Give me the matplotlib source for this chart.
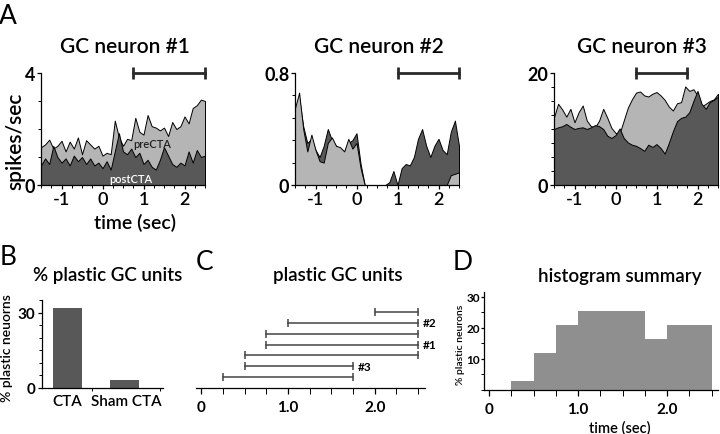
import numpy as np
import matplotlib
matplotlib.use('Agg')
import matplotlib.pyplot as plt
from matplotlib.ticker import MultipleLocator

plt.rcParams.update({'font.family': ['Lato', 'DejaVu Sans'], 'font.weight': 'semibold',
                     'axes.linewidth': 0.9,
                     'xtick.direction': 'out', 'ytick.direction': 'out',
                     'xtick.major.width': 0.9, 'ytick.major.width': 0.9,
                     'xtick.minor.width': 0.7, 'ytick.minor.width': 0.7})

# ---- data ----
time_s = [-1.5, -1.4, -1.3, -1.2, -1.1, -1.0, -0.9, -0.8, -0.7, -0.6, -0.5, -0.4, -0.3, -0.2,
          -0.1, 0.0, 0.1, 0.2, 0.3, 0.4, 0.5, 0.6, 0.7, 0.8, 0.9, 1.0, 1.1, 1.2, 1.3, 1.4,
          1.5, 1.6, 1.7, 1.8, 1.9, 2.0, 2.1, 2.2, 2.3, 2.4, 2.5]
n1_pre = [1.35, 1.45, 1.62, 1.30, 1.40, 1.58, 1.20, 1.55, 1.30, 1.70, 1.10, 1.60, 1.45, 1.30,
          1.40, 1.05, 1.15, 1.10, 2.30, 1.70, 1.40, 1.65, 1.60, 2.40, 1.90, 1.80, 2.50, 2.10,
          2.05, 1.95, 2.05, 1.75, 2.25, 2.00, 2.10, 2.45, 2.20, 2.75, 2.85, 3.05, 3.00]
n1_post = [0.70, 0.95, 0.75, 1.40, 1.00, 0.80, 0.95, 0.70, 1.05, 0.85, 1.00, 0.75, 0.95, 0.70,
           0.80, 0.60, 0.85, 0.55, 1.20, 1.85, 1.20, 1.10, 1.30, 1.00, 1.15, 0.75, 0.90, 0.65,
           0.55, 0.90, 1.35, 1.05, 0.75, 0.65, 0.80, 0.70, 1.20, 0.80, 1.25, 1.00, 1.05]
n2_pre = [0.55, 0.66, 0.40, 0.24, 0.36, 0.25, 0.17, 0.16, 0.30, 0.34, 0.28, 0.27, 0.24, 0.33,
          0.26, 0.30, 0.12, 0.0, 0.0, 0.0, 0.0, 0.0, 0.0, 0.0, 0.0, 0.0, 0.0, 0.0,
          0.0, 0.0, 0.0, 0.0, 0.0, 0.0, 0.0, 0.0, 0.0, 0.0, 0.07, 0.08, 0.09]
n2_post = [0.50, 0.62, 0.42, 0.30, 0.33, 0.25, 0.20, 0.28, 0.40, 0.32, 0.28, 0.26, 0.24, 0.30,
           0.32, 0.37, 0.15, 0.0, 0.0, 0.0, 0.0, 0.0, 0.0, 0.02, 0.10, 0.0, 0.12, 0.15,
           0.14, 0.20, 0.33, 0.40, 0.28, 0.20, 0.28, 0.33, 0.25, 0.22, 0.38, 0.46, 0.28]
n3_pre = [12.1, 14.5, 13.5, 12.2, 13.6, 11.2, 13.0, 14.2, 11.5, 10.5, 10.3, 11.5, 13.6, 12.0,
          10.2, 9.3, 9.2, 11.5, 13.8, 15.3, 16.5, 16.7, 16.0, 15.8, 16.3, 16.6, 16.0, 15.2,
          14.0, 13.3, 14.6, 14.8, 17.6, 16.8, 17.1, 16.0, 14.0, 14.5, 15.0, 15.3, 16.3]
n3_post = [10.0, 10.3, 10.5, 10.9, 10.4, 10.0, 10.2, 10.3, 10.0, 10.3, 10.7, 10.5, 10.0, 8.8,
           8.4, 8.9, 10.1, 8.4, 7.6, 7.2, 7.0, 6.6, 6.1, 7.2, 6.8, 7.3, 6.6, 5.6,
           7.5, 9.6, 11.4, 12.0, 12.2, 13.0, 15.0, 16.8, 14.5, 13.6, 14.8, 15.2, 15.8]
neuron_titles = ['GC neuron #1', 'GC neuron #2', 'GC neuron #3']
neuron_ymax = [4, 0.8, 20]
neuron_ylabels = [['0', '4'], ['0', '0.8'], ['0', '20']]
neuron_minor = [1.0, 0.16, 2.5]
windows = [(0.75, 2.5), (1.0, 2.5), (0.5, 1.75)]

groups = ['CTA', 'Sham CTA']
pct_plastic = [32, 3]

unit_start = [2.0, 1.0, 0.75, 0.75, 0.5, 0.5, 0.25]
unit_end = [2.5, 2.5, 2.5, 2.5, 2.5, 1.75, 1.75]
unit_tag = ['', '#2', '', '#1', '', '#3', '']

hist_edges = [0.25, 0.5, 0.75, 1.0, 1.75, 2.0, 2.5]
hist_pct = [3, 12, 21, 25.5, 16.5, 21]

LIGHT, DARK, MID, INK = '#b5b5b5', '#585858', '#8f8f8f', '#2a2a2a'

W, H = 720, 435
fig = plt.figure(figsize=(W / 100, H / 100), dpi=100)

def px(l, t, r, b):
    return [l / W, 1 - b / H, (r - l) / W, (b - t) / H]

def ft(x, y, s, **kw):
    fig.text(x / W, 1 - y / H, s, **kw)

# ---- panel A ----
pairs = [(n1_pre, n1_post), (n2_pre, n2_post), (n3_pre, n3_post)]
boxes = [(41, 205), (295, 459), (554, 718)]
title_x = [125, 379, 642]
for i, ((pre, post), (l, r)) in enumerate(zip(pairs, boxes)):
    ax = fig.add_axes(px(l, 74, r, 186))
    t = np.array(time_s)
    layers = [(pre, LIGHT), (post, DARK)]
    if i == 1:
        layers = layers[::-1]
    for y, c in layers:
        ax.fill_between(t, 0, y, facecolor=c, edgecolor='black', linewidth=0.7)
    ymax = neuron_ymax[i]
    ax.set_xlim(-1.5, 2.5); ax.set_ylim(0, ymax)
    w0, w1 = windows[i]
    ax.plot([w0, w1], [ymax, ymax], color=INK, lw=2, marker='|', ms=9, mew=2, clip_on=False)
    for s in ['top', 'right']:
        ax.spines[s].set_visible(False)
    ax.set_yticks([0, ymax]); ax.set_yticklabels(neuron_ylabels[i], fontsize=13, fontweight='bold')
    ax.yaxis.set_minor_locator(MultipleLocator(neuron_minor[i]))
    ax.set_xticks([-1, 0, 1, 2]); ax.set_xticklabels(['-1', '0', '1', '2'], fontsize=13)
    ax.xaxis.set_minor_locator(MultipleLocator(0.25))
    ax.tick_params(which='major', length=3, pad=1)
    ax.tick_params(which='minor', length=2)
    ft(title_x[i], 47, neuron_titles[i], fontsize=15, ha='center', va='center')
    if i == 0:
        ax.text(1.22, 1.5, 'preCTA', fontsize=8, color='#222222', ha='center', va='center')
        ax.text(0.68, 0.22, 'postCTA', fontsize=8, color='white', ha='center', va='center')

ft(8, 4, 'A', fontsize=19, fontweight='normal', ha='center', va='top')
ft(15, 141, 'spikes/sec', fontsize=15, rotation=90, ha='center', va='center')
ft(135, 223, 'time (sec)', fontsize=14, ha='center', va='center')

# ---- panel B ----
ax = fig.add_axes(px(42, 301, 163, 389))
ax.bar([0, 1], pct_plastic, width=0.51, color=DARK)
ax.set_xlim(-0.45, 1.675); ax.set_ylim(0, 35)
for s in ['top', 'right']:
    ax.spines[s].set_visible(False)
ax.set_yticks([0, 30]); ax.set_yticklabels(['0', '30'], fontsize=11, fontweight='bold')
ax.yaxis.set_minor_locator(MultipleLocator(5))
ax.set_xticks([0, 1.03]); ax.set_xticklabels(groups, fontsize=11)
ax.set_xticks([0.43, 1.63], minor=True)
ax.tick_params(axis='x', which='major', length=0, pad=4)
ax.tick_params(which='minor', length=2.5)
ax.tick_params(axis='y', which='major', length=3, pad=2)
ft(8, 245, 'B', fontsize=19, fontweight='normal', ha='center', va='top')
ft(108, 276, '% plastic GC units', fontsize=13.5, ha='center', va='center')
ft(7, 348, '% plastic neuorns', fontsize=10, rotation=90, ha='center', va='center')

# ---- panel C ----
ax = fig.add_axes(px(196, 301, 425, 389))
n = len(unit_start)
for k, (s0, s1, tag) in enumerate(zip(unit_start, unit_end, unit_tag)):
    yk = n - k
    ax.plot([s0, s1], [yk, yk], color='#444444', lw=1.1, marker='|', ms=6, mew=1.1)
    if tag:
        ax.text(s1 + 0.05, yk, tag, fontsize=8.5, fontweight='bold', va='center', ha='left')
ax.set_xlim(-0.06, 2.58); ax.set_ylim(0, 8.1)
for s in ['top', 'right', 'left']:
    ax.spines[s].set_visible(False)
ax.set_yticks([])
ax.set_xticks([0, 1, 2]); ax.set_xticklabels(['0', '1.0', '2.0'], fontsize=11, fontweight='bold')
ax.xaxis.set_minor_locator(MultipleLocator(0.25))
ax.tick_params(which='both', length=4, pad=5)
ft(205, 250, 'C', fontsize=19, fontweight='normal', ha='center', va='top')
ft(338, 276, 'plastic GC units', fontsize=13.5, ha='center', va='center')

# ---- panel D ----
ax = fig.add_axes(px(484, 293, 718, 391))
ax.bar(hist_edges[:-1], hist_pct, width=np.diff(hist_edges), align='edge', color=MID)
ax.set_xlim(-0.056, 2.57); ax.set_ylim(0, 31.6)
for s in ['top', 'right']:
    ax.spines[s].set_visible(False)
ax.set_yticks([10, 20, 30]); ax.set_yticklabels(['10', '20', '30'], fontsize=8.5, fontweight='bold')
ax.yaxis.set_minor_locator(MultipleLocator(5))
ax.set_xticks([0, 1, 2]); ax.set_xticklabels(['0', '1.0', '2.0'], fontsize=11, fontweight='bold')
ax.xaxis.set_minor_locator(MultipleLocator(0.25))
ax.tick_params(axis='x', which='both', length=4, pad=5)
ax.tick_params(axis='y', which='both', length=2, pad=1)
ft(463, 250, 'D', fontsize=19, fontweight='normal', ha='center', va='top')
ft(620, 277, 'histogram summary', fontsize=13.5, ha='center', va='center')
ft(620, 428, 'time (sec)', fontsize=10.5, ha='center', va='center')
ft(461, 345, '% plastic neurons', fontsize=7.5, rotation=90, ha='center', va='center')

fig.savefig('out.png', dpi=100)
